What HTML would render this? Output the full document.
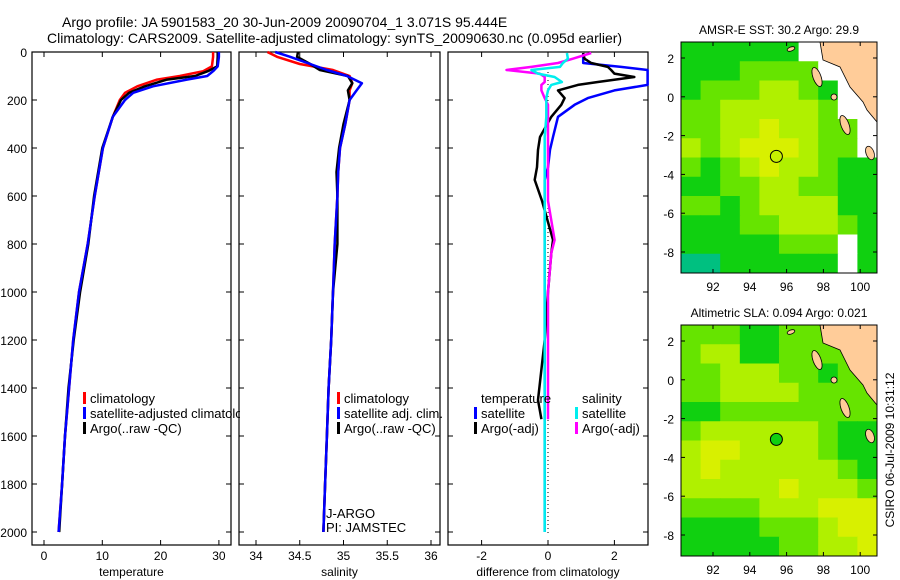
<!DOCTYPE html>
<html><head><meta charset="utf-8"><style>
body{margin:0;background:#fff;}
svg{display:block;font-family:"Liberation Sans",sans-serif;}
</style></head><body>
<svg id="c" width="900" height="580" viewBox="0 0 900 580">
<defs><clipPath id="lc1"><rect x="0" y="380" width="240" height="80"/></clipPath></defs>
<text x="62" y="27" font-size="14">Argo profile: JA 5901583_20 30-Jun-2009 20090704_1 3.071S 95.444E</text>
<text x="47" y="43" font-size="14">Climatology: CARS2009. Satellite-adjusted climatology: synTS_20090630.nc (0.095d earlier)</text>
<text transform="translate(894,450) rotate(-90)" text-anchor="middle" font-size="12">CSIRO 06-Jul-2009 10:31:12</text>
</svg>
<script>
// ---- data ----
const tDepth = [0,20,60,80,100,115,143,170,200,270,400,600,800,1000,1200,1400,1600,1800,2000];
const tClim  = [29.0,29.0,28.8,27.3,23.3,19.4,16.0,13.9,13.0,11.8,10.1,8.7,7.5,6.0,5.0,4.3,3.6,3.1,2.5];
const tSat   = [30.0,30.0,29.8,29.0,28.0,24.5,18.7,15.3,13.9,11.8,10.1,8.7,7.5,6.0,5.0,4.3,3.6,3.1,2.5];
const tArgo  = [29.8,29.8,29.7,28.1,25.9,21.1,17.3,14.6,13.2,11.8,10.0,8.6,7.6,6.2,5.1,4.2,3.6,3.1,2.6];
const sDepth = [0,20,50,75,100,130,160,200,300,400,500,600,800,1000,1200,1400,1600,1800,2000];
const sClim  = [34.13,34.24,34.50,34.88,35.07,35.10,35.07,35.07,35.02,34.96,34.94,34.93,34.90,34.88,34.86,34.83,34.81,34.79,34.77];
const sSat   = [34.22,34.39,34.62,34.81,35.04,35.21,35.15,35.07,35.02,34.96,34.94,34.93,34.90,34.88,34.86,34.83,34.81,34.79,34.77];
const sArgo  = [34.48,34.47,34.62,34.73,35.05,35.10,35.05,35.07,35.00,34.95,34.92,34.93,34.93,34.88,34.86,34.83,34.81,34.79,34.77];
const dDepth = [4,28,46,62,75,90,104,125,137,160,192,220,270,354,408,480,533,620,783,838,1000,1200,1450,1530,1800,2000];
const dTSat  = [1.06,1.06,1.06,2.2,3.0,3.0,3.0,3.0,3.0,2.0,1.2,0.8,0.3,0.15,0.06,0.0,-0.1,-0.1,-0.1,-0.1,-0.1,-0.1,-0.1,-0.1,-0.1,-0.1];
const dTArgo = [1.06,1.1,1.3,1.8,1.9,2.0,2.6,1.5,0.9,0.3,0.5,0.4,0.1,-0.24,-0.3,-0.33,-0.4,-0.18,0.15,0.1,0.0,-0.1,-0.3,-0.2,null,null];
const dSArgo = [1.3,0.75,0.3,-0.5,-1.25,-0.25,-0.1,-0.1,-0.2,-0.2,-0.1,0.0,0.0,0.0,0.0,0.0,0.0,0.0,0.2,0.1,0.0,0.0,0.0,0.0,null,null];
const dSSat  = [0.57,0.6,0.45,0.36,-0.5,-0.3,0.2,0.42,0.1,0.0,-0.05,-0.05,-0.05,-0.1,-0.1,-0.1,-0.1,-0.1,-0.1,-0.1,-0.1,-0.1,-0.1,-0.1,-0.1,-0.1];
const depthTicks = [0,200,400,600,800,1000,1200,1400,1600,1800,2000];
const tTicks = [0,10,20,30];
const sTicks = [34,34.5,35,35.5,36];
const dTicks = [-2,0,2];
// map grids (colour level codes, -1 = no data), rows N->S, cols W->E
const sstGrid = [
[1,1,1,1,1,1,-1,-1,-1,-1],[1,1,1,2,2,2,2,-1,-1,-1],[1,2,2,2,3,3,2,1,-1,-1],[2,2,3,3,3,3,3,2,-1,-1],
[2,2,3,3,4,3,3,2,2,-1],[3,2,3,4,4,4,3,2,2,-1],[2,1,2,3,4,3,3,2,1,1],[1,1,2,2,3,3,2,2,1,1],
[2,2,1,2,3,3,3,3,1,1],[1,1,1,2,2,3,3,3,2,1],[1,1,1,1,1,2,2,2,-1,1],[0,0,1,1,1,1,1,1,-1,1]];
const slaGrid = [
[2,2,2,1,1,2,2,2,2,2],[2,3,3,1,1,2,2,2,2,2],[2,2,3,3,3,2,2,1,2,2],[2,2,3,3,3,3,2,2,2,2],
[1,1,2,2,2,2,2,2,2,2],[2,3,3,3,3,3,3,2,1,1],[3,4,4,3,3,3,3,2,1,1],[3,4,3,3,3,3,3,3,2,1],
[3,3,3,3,3,4,3,3,3,2],[2,2,2,2,3,3,3,4,4,4],[1,1,1,1,2,2,2,3,4,4],[1,1,1,1,1,2,2,3,3,4]];
const lonTicks=[92,94,96,98,100];
const latTicks=[2,0,-2,-4,-6,-8];

const NS="http://www.w3.org/2000/svg";
const svg=document.getElementById('c');
function el(t,a,p){const e=document.createElementNS(NS,t);for(const k in a)e.setAttribute(k,a[k]);(p||svg).appendChild(e);return e;}
function txt(x,y,s,a,p){const e=el('text',Object.assign({x:x,y:y,'font-size':12},a||{}),p);e.textContent=s;return e;}

const TOP=52, BOT=545, yD=d=>TOP+d*0.24;
const panels=[
 {x0:32,x1:231,f:v=>44+v*5.83,ticks:tTicks,label:'temperature',name:'temperature-panel'},
 {x0:239,x1:440,f:v=>256+(v-34)*87.5,ticks:sTicks,label:'salinity',name:'salinity-panel'},
 {x0:448,x1:648,f:v=>548+v*33.2,ticks:dTicks,label:'difference from climatology',name:'difference-panel'}];
panels.forEach((p,i)=>{
 const g=el('g',{});
 
 
 const r=el('rect',{x:p.x0,y:TOP,width:p.x1-p.x0,height:BOT-TOP,fill:'none',stroke:'#000','stroke-width':1.2},g);
 
 
 depthTicks.forEach(d=>{const y=yD(d);
  el('line',{x1:p.x0,x2:p.x0+5,y1:y,y2:y,stroke:'#000'},g);
  el('line',{x1:p.x1,x2:p.x1-5,y1:y,y2:y,stroke:'#000'},g);
  if(i==0){const t=txt(27,y+5,String(d),{'text-anchor':'end','font-size':12});
   
   }
 });
 p.ticks.forEach(v=>{const x=p.f(v);
  el('line',{x1:x,x2:x,y1:BOT,y2:BOT-5,stroke:'#000'},g);
  el('line',{x1:x,x2:x,y1:TOP,y2:TOP+5,stroke:'#000'},g);
  const t=txt(x,560,String(v),{'text-anchor':'middle'},g);
  
  
 });
 const at=txt((p.x0+p.x1)/2,576,p.label,{'text-anchor':'middle'},g);
 
 
});
function line(p,depths,vals,color,w,name){
 let d='';let pen=false;
 vals.forEach((v,k)=>{if(v===null){pen=false;return;}d+=(pen?'L':'M')+p.f(v).toFixed(1)+','+yD(depths[k]).toFixed(1);pen=true;});
 const e=el('path',{d:d,fill:'none',stroke:color,'stroke-width':w,'stroke-linejoin':'round'});
 
 
}
el('line',{x1:548,x2:548,y1:TOP+12,y2:BOT-12,stroke:'#000','stroke-dasharray':'1,3'});
line(panels[0],tDepth,tClim,'#f00',2.5,'temperature-climatology-line');
line(panels[0],tDepth,tArgo,'#000',2.5,'temperature-argo-line');
line(panels[0],tDepth,tSat,'#00f',2.5,'temperature-satellite-line');
line(panels[1],sDepth,sClim,'#f00',2.5,'salinity-climatology-line');
line(panels[1],sDepth,sArgo,'#000',2.5,'salinity-argo-line');
line(panels[1],sDepth,sSat,'#00f',2.5,'salinity-satellite-line');
line(panels[2],dDepth,dTSat,'#00f',2.5,'temp-diff-satellite-line');
line(panels[2],dDepth,dTArgo,'#000',2.5,'temp-diff-argo-line');
line(panels[2],dDepth,dSArgo,'#f0f',2.5,'sal-diff-argo-line');
line(panels[2],dDepth,dSSat,'#0ee',2.5,'sal-diff-satellite-line');
el('rect',{x:649,y:TOP,width:20,height:BOT-TOP,fill:'#fff'});

function legend(x,y,color,label,name,clip){
 const g=el('g',clip?{'clip-path':'url(#lc1)'}:{});
 
 
 if(color) el('rect',{x:x,y:y-11,width:3,height:12,fill:color},g);
 txt(x+7,y,label,{'font-size':13},g);
}
legend(83,403,'#f00','climatology','legend-climatology',1);
legend(83,418,'#00f','satellite-adjusted climatology','legend-satellite-adjusted',1);
legend(83,433,'#000','Argo(..raw -QC)','legend-argo',1);
legend(337,403,'#f00','climatology','legend-sal-climatology');
legend(337,418,'#00f','satellite adj. clim.','legend-sal-satellite');
legend(337,433,'#000','Argo(..raw -QC)','legend-sal-argo');
legend(474,403,null,'temperature','legend-temperature-header');
legend(474,418,'#00f','satellite','legend-temp-satellite');
legend(474,433,'#000','Argo(-adj)','legend-temp-argo');
legend(575,403,null,'salinity','legend-salinity-header');
legend(575,418,'#0ee','satellite','legend-sal-diff-satellite');
legend(575,433,'#f0f','Argo(-adj)','legend-sal-diff-argo');
txt(326,518,'J-ARGO',{'font-size':13});
txt(326,532,'PI: JAMSTEC',{'font-size':13});

// maps
const levels=['#00c080','#10d010','#66e400','#b0f000','#d8f000'];
function map(y0,grid,title,dotFill,name){
 const X0=681,X1=877,Y1=y0+231;
 const g=el('g',{});
 
 
 const cw=(X1-X0)/grid[0].length, ch=(Y1-y0)/grid.length;
 grid.forEach((row,r)=>row.forEach((v,c)=>{
  const cell=el('rect',{x:X0+c*cw,y:y0+r*ch,width:cw+0.5,height:ch+0.5,fill:v<0?'#fff':levels[v]},g);
  
  
 }));
 const lx=lon=>713+(lon-92)*18.4, ly=lat=>(y0+16)-(lat-2)*19.4;
 const land=el('path',{d:`M820,${y0}L823,${y0+18}L840,${y0+25}L850,${y0+45}L863,${y0+60}L867,${y0+68}L877,${y0+80}L877,${y0}Z`,fill:'#fc9',stroke:'#000','stroke-width':0.8},g);
 
 
 [[817,35,4,10],[845,83,4,10],[870,111,4,7],[791,7,4,2],[834,55,3,3]].forEach(a=>el('ellipse',{cx:a[0],cy:y0+a[1],rx:a[2],ry:a[3],fill:'#fc9',stroke:'#000','stroke-width':0.8,transform:`rotate(-20 ${a[0]} ${y0+a[1]})`},g));
 el('rect',{x:X0,y:y0,width:X1-X0,height:Y1-y0,fill:'none',stroke:'#000'},g);
 const dot=el('circle',{cx:lx(95.444),cy:ly(-3.071),r:6,fill:dotFill,stroke:'#000'},g);
 
 
 lonTicks.forEach(v=>{const x=lx(v);el('line',{x1:x,x2:x,y1:y0,y2:y0+4,stroke:'#000'},g);el('line',{x1:x,x2:x,y1:Y1,y2:Y1-4,stroke:'#000'},g);txt(x,Y1+18,String(v),{'text-anchor':'middle'},g);});
 latTicks.forEach(v=>{const y=ly(v);el('line',{x1:X0,x2:X0+4,y1:y,y2:y,stroke:'#000'},g);el('line',{x1:X1,x2:X1-4,y1:y,y2:y,stroke:'#000'},g);txt(674,y+5,String(v),{'text-anchor':'end'},g);});
 const t=txt(779,y0-8,title,{'text-anchor':'middle','font-size':12},g);
 
 
}
map(42,sstGrid,'AMSR-E SST: 30.2 Argo: 29.9','#c8f000','sst-map');
map(325,slaGrid,'Altimetric SLA: 0.094 Argo: 0.021','#10d010','sla-map');
</script>
</body></html>
